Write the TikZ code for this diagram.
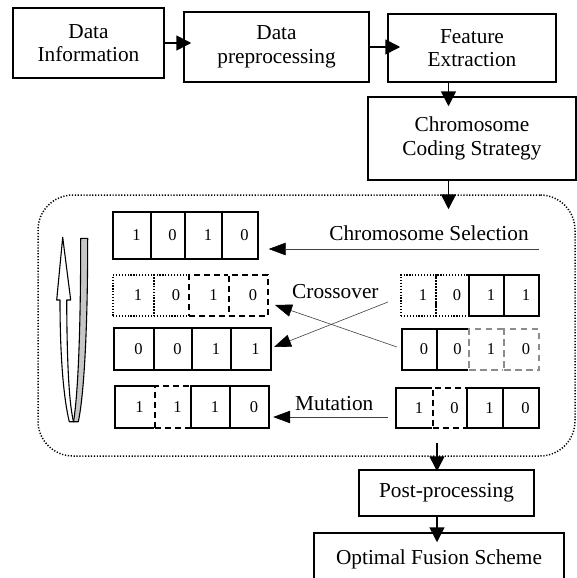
\documentclass[tikz,border=0pt]{standalone}
\usepackage{fontspec}
\setmainfont{Liberation Serif}
\usetikzlibrary{arrows.meta}
\newcommand\gacell[7]{%
  \node[#1, minimum width={#4pt-#3pt}, minimum height={#6pt-#5pt}] (#2) at ({(#3+#4)/2},{(#5+#6)/2}) {#7};}
\begin{document}
\begin{tikzpicture}[x=1pt,y=-1pt,
  lblfont/.style={font=\fontsize{21.3}{23.5}\selectfont},
  box/.style={draw, line width=1.5pt, inner sep=0pt, align=center, lblfont},
  lbl/.style={inner sep=0pt, lblfont},
  arr/.style={line width=1.6pt, -{Triangle[length=15pt,width=15pt]}, shorten >=-10pt},
  thinarr/.style={line width=0.6pt, draw=black!75, -{Triangle[length=17pt,width=12.5pt,color=black]}},
  cellbase/.style={inner sep=0pt, line width=1.4pt, font=\fontsize{16.5}{18}\selectfont, execute at begin node={\hspace*{9pt}}},
  cS/.style={cellbase, draw},
  cT/.style={cellbase, draw, dash pattern=on 1.2pt off 1.7pt},
  cD/.style={cellbase, draw, dash pattern=on 6pt off 4pt, preaction={draw=white, solid, line width=2.6pt}},
  cG/.style={cellbase, draw=black!45, dash pattern=on 6.5pt off 4.5pt, preaction={draw=white, solid, line width=2.6pt}},
  group/.style={draw, line width=1.5pt, dash pattern=on 1.2pt off 1.7pt, rounded corners=35pt, inner sep=0pt},
]
\useasboundingbox (0,0) rectangle (577,578);
\fill[white] (0,0) rectangle (577,578);
\clip (0,0) rectangle (577,578);

% top flow
\node[box, minimum width=151pt, minimum height=70pt] (di) at (88.5,43) {Data\\Information};
\node[box, minimum width=185pt, minimum height=70pt] (dp) at (276.5,47) {Data\\preprocessing};
\node[box, minimum width=168pt, minimum height=68pt] (fe) at (472,48) {Feature\\Extraction};
\node[box, minimum width=208pt, minimum height=83pt] (ccs) at (472,138.5) {Chromosome\\Coding Strategy};

% GA group
\node[group, minimum width=537pt, minimum height=261pt] (ga) at (306.5,325.5) {};

% bottom boxes
\node[box, minimum width=175pt, minimum height=46pt] (pp) at (446.5,493) {Post-processing};
\node[box, minimum width=250pt, minimum height=52pt] (ofs) at (439,559) {Optimal Fusion Scheme};

% cycle arrow
\draw[line width=1.1pt, fill=white, line join=round] (62.7,237.3) -- (70.7,300) -- (66.7,300)
  .. controls (67,370) and (69.5,405) .. (73.5,421.7) -- (69.3,421.7)
  .. controls (64,400) and (60,360) .. (60,300) -- (56.7,300) -- cycle;
\draw[line width=1.1pt, fill=black!22, line join=round] (80.7,238.3) -- (87.7,238.3)
  .. controls (87.7,330) and (84,395) .. (78.3,421.7) -- (73.5,421.7)
  .. controls (78,395) and (80.7,330) .. (80.7,238.3) -- cycle;

% row 1 left
\gacell{cS}{r1a}{113}{151}{212}{259}{1}
\gacell{cS}{r1b}{151}{185}{212}{259}{0}
\gacell{cS}{r1c}{185}{222}{212}{259}{1}
\gacell{cS}{r1d}{222}{258}{212}{259}{0}
% row 2 left
\gacell{cT}{r2a}{113}{154}{275}{316}{1}
\gacell{cT}{r2b}{154}{189}{275}{316}{0}
\gacell{cD}{r2c}{189}{229}{275}{316}{1}
\gacell{cD}{r2d}{229}{268}{275}{316}{0}
% row 3 left
\gacell{cS}{r3a}{114}{154}{328}{370}{0}
\gacell{cS}{r3b}{154}{192}{328}{370}{0}
\gacell{cS}{r3c}{192}{231}{328}{370}{1}
\gacell{cS}{r3d}{231}{271}{328}{370}{1}
% row 4 left
\gacell{cS}{r4a}{115}{155}{386}{428}{1}
\gacell{cD}{r4b}{155}{191}{386}{428}{1}
\gacell{cS}{r4c}{191}{230}{386}{428}{1}
\gacell{cS}{r4d}{230}{269}{386}{428}{0}
% row 2 right
\gacell{cT}{s2a}{401}{436}{275}{316}{1}
\gacell{cT}{s2b}{436}{469}{275}{316}{0}
\gacell{cS}{s2c}{469}{504}{275}{316}{1}
\gacell{cS}{s2d}{504}{539}{275}{316}{1}
% row 3 right
\gacell{cS}{s3a}{402}{437}{329}{370}{0}
\gacell{cS}{s3b}{437}{469}{329}{370}{0}
\gacell{cG}{s3c}{469}{504}{329}{370}{1}
\gacell{cG}{s3d}{504}{539}{329}{370}{0}
% row 4 right
\gacell{cS}{s4a}{396}{433}{388}{428}{1}
\gacell{cD}{s4b}{433}{467}{388}{428}{0}
\gacell{cS}{s4c}{467}{503}{388}{428}{1}
\gacell{cS}{s4d}{503}{539}{388}{428}{0}

% labels
\node[lbl, anchor=base] (lsel) at (429,240) {Chromosome Selection};
\node[lbl, anchor=base west] (lcross) at (292,298) {Crossover};
\node[lbl, anchor=base west] (lmut) at (295,410) {Mutation};

% thick arrows
\coordinate (vx1) at (448.5,0);
\coordinate (gout) at (437,443);
\draw[arr, shorten >=-8pt] (di.east) -- (di.east -| dp.west);
\draw[arr, shorten >=-13pt] (dp.east) -- (dp.east -| fe.west);
\draw[arr] (vx1 |- fe.south) -- (vx1 |- ccs.north);
\draw[arr, shorten >=-15pt] (vx1 |- ccs.south) -- (vx1 |- ga.north);
\draw[arr, shorten >=-2pt] (gout) -- (gout |- pp.north);
\draw[arr] (gout |- pp.south) -- (gout |- ofs.north);

% thin arrows
\coordinate (selS) at (539,249);
\coordinate (xa) at (388,302);
\coordinate (xat) at (274,347);
\coordinate (xb) at (397,347);
\coordinate (xbt) at (275,305);
\coordinate (mS) at (388,417);
\draw[thinarr, shorten >=10pt] (selS) -- (selS -| r1d.east);
\draw[thinarr] (xa) -- (xat);
\draw[thinarr] (xb) -- (xbt);
\draw[thinarr, shorten >=3.5pt] (mS) -- (mS -| r4d.east);
\end{tikzpicture}
\end{document}
